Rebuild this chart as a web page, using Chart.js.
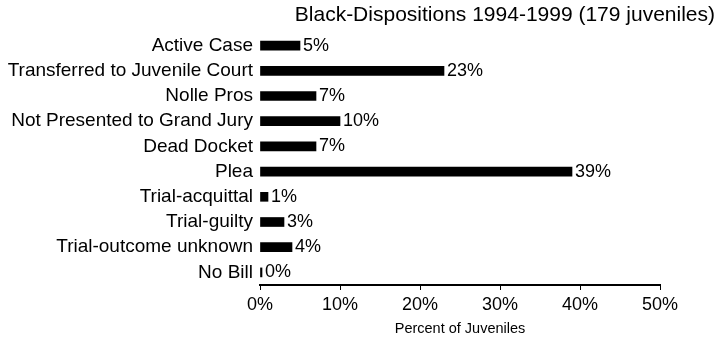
<!DOCTYPE html>
<html>
<head>
<meta charset="utf-8">
<script src="https://cdn.jsdelivr.net/npm/chart.js@4"></script>
<style>
  html, body { margin: 0; padding: 0; background: #fff; }
  #wrap { width: 719px; height: 343px; }
</style>
</head>
<body>
<div id="wrap"><canvas id="myChart"></canvas></div>
<script>
const chartTitle = 'Black-Dispositions 1994-1999 (179 juveniles)'
const categories = [
  'Active Case',
  'Transferred to Juvenile Court',
  'Nolle Pros',
  'Not Presented to Grand Jury',
  'Dead Docket',
  'Plea',
  'Trial-acquittal',
  'Trial-guilty',
  'Trial-outcome unknown',
  'No Bill'
]
const percents = [5, 23, 7, 10, 7, 39, 1, 3, 4, 0]
const xTicks = [0, 10, 20, 30, 40, 50]

const fontFamily = '"Liberation Sans", Arial, sans-serif'

// percent text to the right of each bar + the title in the top right corner
const barText = {
  id: 'barText',
  afterDatasetsDraw(chart) {
    const ctx = chart.ctx
    const meta = chart.getDatasetMeta(0)
    ctx.save()
    ctx.fillStyle = '#000'
    ctx.font = '18px ' + fontFamily
    ctx.textBaseline = 'middle'
    ctx.textAlign = 'left'
    meta.data.forEach((bar, i) => {
      ctx.fillText(percents[i] + '%', bar.x + 3, bar.y)
    })
    ctx.font = '21px ' + fontFamily
    ctx.textAlign = 'right'
    ctx.fillText(chartTitle, 715, 15)
    ctx.restore()
  }
}

const canvas = document.getElementById('myChart')
const myChart = new Chart(canvas, {
  type: 'bar',
  data: {
    labels: categories,
    datasets: [{
      data: percents,
      backgroundColor: '#000',
      borderWidth: 0,
      barThickness: 9,
      minBarLength: 2
    }]
  },
  options: {
    indexAxis: 'y',
    responsive: true,
    maintainAspectRatio: false,
    animation: false,
    layout: { padding: { top: 33, right: 59, left: 0, bottom: 0 } },
    plugins: {
      legend: { display: false },
      title: { display: false },
      tooltip: { enabled: false }
    },
    scales: {
      x: {
        min: 0,
        max: 50,
        afterBuildTicks: (scale) => {
          scale.ticks = xTicks.map(v => ({ value: v }))
        },
        afterFit: (scale) => { scale.height = 58 },
        ticks: {
          color: '#000',
          font: { size: 18, family: fontFamily },
          padding: 4,
          maxRotation: 0,
          callback: (v) => v + '%'
        },
        grid: {
          drawOnChartArea: false,
          drawTicks: true,
          tickLength: 5,
          color: '#000',
          lineWidth: 1
        },
        border: { display: true, color: '#000', width: 2 },
        title: {
          display: true,
          text: 'Percent of Juveniles',
          color: '#000',
          font: { size: 14.5, family: fontFamily },
          padding: { top: 5, bottom: 5.6 }
        }
      },
      y: {
        afterFit: (scale) => { scale.width = 260 },
        ticks: {
          color: '#000',
          font: { size: 19, family: fontFamily },
          padding: 7,
          autoSkip: false
        },
        grid: { display: false, drawTicks: false },
        border: { display: false }
      }
    }
  },
  plugins: [barText]
})
</script>
</body>
</html>
